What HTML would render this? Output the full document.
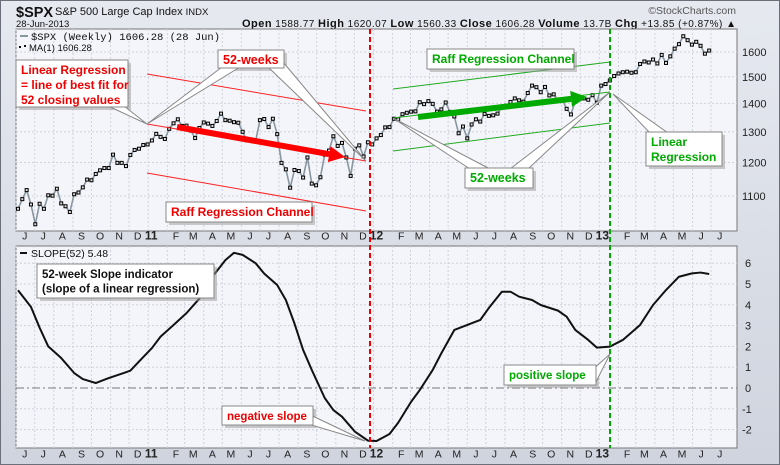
<!DOCTYPE html>
<html><head><meta charset="utf-8"><style>
html,body{margin:0;padding:0;background:#d9dde6;}
svg{display:block;font-family:"Liberation Sans",Arial,sans-serif;}
</style></head><body>
<svg id="c" width="780" height="465" viewBox="0 0 780 465">
<defs><linearGradient id="bg" x1="0" y1="0" x2="0" y2="1"><stop offset="0" stop-color="#e6e9f0"/><stop offset="1" stop-color="#cfd4de"/></linearGradient></defs>
<rect x="0" y="0" width="780" height="465" fill="url(#bg)"/>
<rect x="0.5" y="0.5" width="779" height="464" fill="none" stroke="#6a6f7a"/>
<text x="16" y="17" font-size="14.5" font-weight="bold" fill="#111">$SPX</text>
<text x="55" y="15" font-size="11" fill="#111">S&amp;P 500 Large Cap Index <tspan font-size="9.5">INDX</tspan></text>
<text x="16" y="27" font-size="9.5" fill="#111">28-Jun-2013</text>
<text x="242" y="27" font-size="10" textLength="494" lengthAdjust="spacing" fill="#111"><tspan font-weight="bold" font-size="11">Open</tspan> 1588.77 <tspan font-weight="bold" font-size="11">High</tspan> 1620.07 <tspan font-weight="bold" font-size="11">Low</tspan> 1560.33 <tspan font-weight="bold" font-size="11">Close</tspan> 1606.28 <tspan font-weight="bold" font-size="11">Volume</tspan> 13.7B <tspan font-weight="bold" font-size="11">Chg</tspan> +13.85 (+0.87%) ▲</text>
<text x="736" y="14" font-size="10.5" text-anchor="end" fill="#555">©StockCharts.com</text>
<g id="g"></g>
</svg>
<script>
const prices=[1064,1091,1117,1076,1022,1078,1064,1102,1101,1121,1079,1071,1055,1105,1110,1125,1148,1146,1165,1176,1183,1183,1225,1199,1199,1189,1224,1240,1244,1256,1258,
1271,1293,1283,1276,1310,1329,1343,1320,1321,1304,1279,1313,1332,1328,1320,1337,1363,1340,1338,1333,1331,1300,1271,1271,1268,1340,1344,1316,1345,1292,1199,1179,1124,1177,1174,1154,1216,1136,1131,1155,1225,1238,1285,1253,1263,1216,1159,1244,1255,1219,1265,1258,
1278,1289,1315,1316,1345,1343,1361,1366,1370,1371,1404,1397,1408,1398,1370,1378,1403,1369,1353,1295,1318,1278,1325,1343,1335,1362,1355,1357,1363,1386,1391,1405,1418,1411,1406,1438,1466,1460,1441,1461,1429,1433,1412,1414,1380,1360,1409,1416,1418,1413,1430,1402,
1466,1472,1486,1503,1513,1518,1520,1516,1518,1551,1561,1557,1569,1553,1588,1555,1582,1614,1633,1667,1650,1631,1643,1626,1593,1606];
const slopeWeeks=[0,3,5,7,10,13,15,18,21,26,28,31,33,36,39,42,45,48,50,52,55,57,60,62,64,66,68,71,73,75,78,81,83,86,88,91,93,96,98,101,104,107,109,112,114,116,119,121,125,127,129,132,134,137,140,144,147,150,153,156,158,160];
const slopeVals=[4.7,3.9,2.9,2.0,1.44,0.72,0.43,0.24,0.48,0.83,1.27,1.92,2.47,3.03,3.6,4.3,5.35,6.15,6.5,6.4,6.0,5.5,4.95,4.23,3.1,1.83,0.87,-0.48,-1.06,-1.38,-2.1,-2.53,-2.55,-2.21,-1.67,-0.66,-0.1,0.87,1.67,2.79,3.03,3.27,3.85,4.63,4.63,4.39,4.23,3.99,3.72,3.43,2.79,2.31,1.94,1.99,2.31,3.03,3.99,4.71,5.35,5.51,5.55,5.48];
const priceTicks=[1100,1200,1300,1400,1500,1600];
const slopeTicks=[-2,-1,0,1,2,3,4,5,6];
const monthLabels=['J','J','A','S','O','N','D','11','F','M','A','M','J','J','A','S','O','N','D','12','F','M','A','M','J','J','A','S','O','N','D','13','F','M','A','M','J','J'];

const NS='http://www.w3.org/2000/svg';
const G=document.getElementById('g');
function mk(t,a,p){const e=document.createElementNS(NS,t);for(const k in a)e.setAttribute(k,a[k]);(p||G).appendChild(e);return e;}
const X0=18,STEP=4.32;
const xw=i=>X0+i*STEP;
const yP=p=>52+(Math.log(1600)-Math.log(p))*384.3;
const yS=v=>388-v*20.8;
const start=new Date(2010,5,4).getTime();
const xd=d=>X0+(d.getTime()-start)/(7*864e5)*STEP;

const P1={x:16,y:29,w:721,h:202},P2={x:16,y:246,w:721,h:202};
[[P1,'price-panel'],[P2,'slope-panel']].forEach(([p,n])=>{
 const r=mk('rect',{x:p.x,y:p.y,width:p.w,height:p.h,fill:'#f4f5fa',stroke:'#777'});
 
 
});
for(let m=0;m<monthLabels.length;m++){
 const ms=new Date(2010,5+m,1),mid=new Date(2010,5+m,15);
 const gx=xd(ms);
 [P1,P2].forEach(p=>{ if(gx>p.x&&gx<p.x+p.w){const l=mk('line',{x1:gx,x2:gx,y1:p.y,y2:p.y+p.h,stroke:'#cfd2da','stroke-dasharray':'2,2'});
 
 }});
 const lab=monthLabels[m],yr=/\d/.test(lab);
 [239.5,457.5].forEach(ty=>{
  const t=mk('text',{x:yr?gx+3:xd(mid),y:ty,'font-size':yr?12:10.5,'font-weight':yr?'bold':'normal','text-anchor':'middle',fill:'#222'});
  t.textContent=lab;
  
  
 });
}
priceTicks.forEach(v=>{const y=yP(v);
 const l=mk('line',{x1:P1.x,x2:P1.x+P1.w,y1:y,y2:y,stroke:'#cfd2da','stroke-dasharray':'2,2'});
 
 
 const t=mk('text',{x:742,y:y+4,'font-size':11,fill:'#222'});t.textContent=v;
 
 
});
slopeTicks.forEach(v=>{const y=yS(v);
 const l=mk('line',{x1:P2.x,x2:P2.x+P2.w,y1:y,y2:y,stroke:v===0?'#777':'#cfd2da','stroke-dasharray':v===0?'8,3,2,3':'2,2'});
 
 
 const t=mk('text',{x:v<0?742:745,y:y+4,'font-size':11,fill:'#222'});t.textContent=v;
 
 
});
const pl=mk('polyline',{points:prices.map((p,i)=>xw(i)+','+yP(p)).join(' '),fill:'none',stroke:'#8896a0','stroke-width':1.6});


prices.forEach((p,i)=>{const r=mk('rect',{x:xw(i)-1.5,y:yP(p)-1.5,width:3,height:3,fill:'#ddd',stroke:'#000','stroke-width':1});
 
 });
const sl=mk('polyline',{points:slopeWeeks.map((w,i)=>xw(w)+','+yS(slopeVals[i])).join(' '),fill:'none',stroke:'#111','stroke-width':2,'stroke-linejoin':'round'});



function L(x1,y1,x2,y2,c,n,extra){const l=mk('line',Object.assign({x1,y1,x2,y2,stroke:c},extra||{}));
 
 return l;}
L(147,74,366,111,'#f22','raff-upper-red');
L(147,124,366,161,'#f22','regression-line-red');
L(147,173,366,211,'#f22','raff-lower-red');
L(393,89,610,62,'#2a2','raff-upper-green');
L(393,118,610,92,'#2a2','regression-line-green');
L(393,151,610,123,'#2a2','raff-lower-green');
L(370,29,370,448,'#e00','year-2012-marker',{'stroke-width':2,'stroke-dasharray':'5,3'});
L(610,29,610,448,'#0a0','year-2013-marker',{'stroke-width':2,'stroke-dasharray':'5,3'});
function arrow(x1,y1,x2,y2,c,n){const a=Math.atan2(y2-y1,x2-x1),hl=16,hw=8;
 const bx=x2-hl*Math.cos(a),by=y2-hl*Math.sin(a);
 L(x1,y1,bx,by,c,n+'-shaft',{'stroke-width':6});
 const h=mk('polygon',{points:`${x2},${y2} ${bx-hw*Math.sin(a)},${by+hw*Math.cos(a)} ${bx+hw*Math.sin(a)},${by-hw*Math.cos(a)}`,fill:c});
 
 }
arrow(177,127,345,157,'#f00','red-arrow');
arrow(418,117,587,97,'#0a0','green-arrow');
function callout(x,y,w,h,lines,color,ptrs,n,fs){
 const g=mk('g',{});
 mk('rect',{x:x+3,y:y+3,width:w,height:h,fill:'#999',opacity:0.5},g);
 ptrs.forEach(p=>{mk('polygon',{points:`${p[0]},${p[1]} ${p[2]},${p[3]} ${p[4]},${p[5]}`,fill:'#fff',stroke:'#888'},g);});
 mk('rect',{x,y,width:w,height:h,fill:'#fff',stroke:'#888'},g);
 lines.forEach((s,i)=>{const t=mk('text',{x:x+5,y:y+14+i*(fs+3),'font-size':fs,'font-weight':'bold',fill:color},g);t.textContent=s;});
}
callout(16,60,112,47,['Linear Regression','= line of best fit for','52 closing values'],'#e00',[[108,106,147,124,124,106]],'linear-regression-callout',12);
callout(218,50,66,18,['52-weeks'],'#e00',[[222,67,147,124,240,67],[268,67,366,161,283,62]],'red-52-weeks-callout',12.5);
callout(166,202,146,20,['Raff Regression Channel'],'#e00',[],'red-raff-callout',12);
callout(427,49,147,20,['Raff Regression Channel'],'#0a0',[],'green-raff-callout',12);
callout(465,168,68,20,['52-weeks'],'#0a0',[[470,169,393,118,490,169],[510,169,610,92,528,169]],'green-52-weeks-callout',12.5);
callout(646,132,76,34,['Linear','Regression'],'#0a0',[[650,133,613,94,668,133]],'linear-regression-green-callout',12);
callout(37,264,177,34,['52-week Slope indicator','(slope of a linear regression)'],'#111',[],'slope-indicator-callout',11.5);
callout(222,406,91,19,['negative slope'],'#e00',[[300,410,365,441,308,424]],'negative-slope-callout',11.5);
callout(504,365,92,20,['positive slope'],'#0a0',[[590,372,610,354,596,382]],'positive-slope-callout',11.5);
const lg=mk('g',{});
mk('line',{x1:20,x2:28,y1:36,y2:36,stroke:'#8896a0','stroke-width':2},lg);
let t=mk('text',{x:31,y:40,'font-size':10.5,'font-family':'Liberation Mono, monospace',fill:'#111'},lg);t.textContent='$SPX (Weekly) 1606.28 (28 Jun)';
mk('rect',{x:19,y:46,width:2,height:2,fill:'#111'},lg);mk('rect',{x:24,y:45,width:2,height:2,fill:'#111'},lg);
t=mk('text',{x:29,y:51,'font-size':9.5,fill:'#111'},lg);t.textContent='MA(1) 1606.28';
const sg=mk('g',{});
mk('line',{x1:20,x2:27,y1:253,y2:253,stroke:'#111','stroke-width':2},sg);
t=mk('text',{x:31,y:257,'font-size':10.5,fill:'#111'},sg);t.textContent='SLOPE(52) 5.48';
</script>
</body></html>
